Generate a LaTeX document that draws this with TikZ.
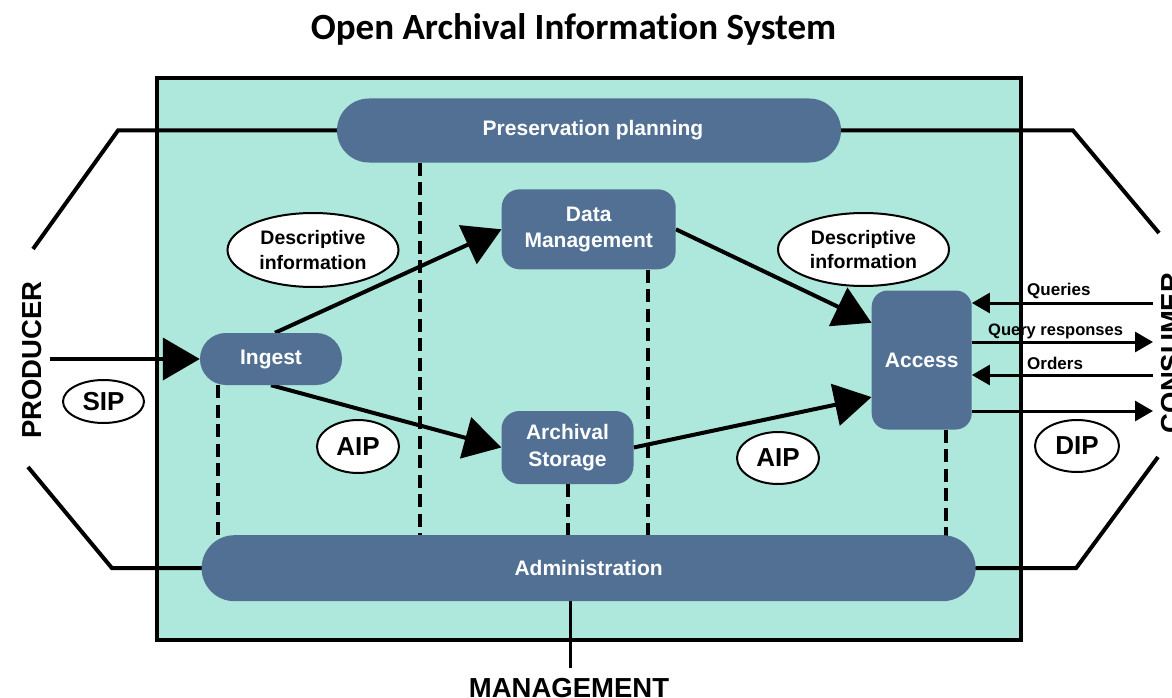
\documentclass[tikz,border=0pt]{standalone}
\usepackage{fontspec}
\setmainfont{Liberation Sans}
\newfontfamily\titlefont[Ligatures=NoCommon]{Carlito}
\usetikzlibrary{arrows.meta,shapes.geometric,calc}
\definecolor{boxfill}{RGB}{174,232,220}
\definecolor{nodeblue}{RGB}{81,112,148}
\pgfdeclarelayer{bg}
\pgfdeclarelayer{lines}
\pgfsetlayers{bg,lines,main}
\begin{document}
\begin{tikzpicture}[x=1pt,y=-1pt,
  func/.style={fill=nodeblue, text=white, font=\bfseries\fontsize{21}{26.5}\selectfont, inner sep=0pt, align=center},
  tag/.style={ellipse, draw=black, fill=white, line width=2pt, inner sep=0pt, font=\bfseries\fontsize{19.5}{24.5}\selectfont, align=center},
  pkg/.style={tag, font=\bfseries\fontsize{26}{30}\selectfont},
  flow/.style={line width=4pt, -{Triangle[length=37pt,width=42pt]}},
  iface/.style={line width=3pt, -{Triangle[length=18pt,width=20pt]}},
  link/.style={line width=4pt},
  dashlink/.style={line width=3.6pt, dash pattern=on 13pt off 6.5pt},
  lbl/.style={font=\bfseries\fontsize{17}{20}\selectfont, anchor=base west, inner sep=0pt},
  actor/.style={font=\bfseries\fontsize{27.5}{30}\selectfont, inner sep=0pt, anchor=base}
]
\useasboundingbox (0,0) rectangle (1172,698);

\node[font=\titlefont\bfseries\fontsize{37}{40}\selectfont, anchor=base, inner sep=0pt] (title) at (573.5,39.5) {Open Archival Information System};

% functional entities
\node[func, minimum width=504pt, minimum height=64pt, rounded corners=31.9pt] (pp) at (589,130.5) {\hspace*{8pt}Preservation planning};
\node[func, minimum width=174pt, minimum height=80pt, rounded corners=18pt] (dm) at (588.7,229.3) {Data\\Management};
\node[func, minimum width=142pt, minimum height=52pt, rounded corners=25.9pt] (ingest) at (271,359) {Ingest};
\node[func, minimum width=132pt, minimum height=73pt, rounded corners=18pt] (as) at (567.5,447.5) {Archival\\Storage};
\node[func, minimum width=100pt, minimum height=139pt, rounded corners=16pt] (access) at (921.7,360) {Access};
\node[func, minimum width=774pt, minimum height=66pt, rounded corners=32.9pt] (adm) at (588.6,568.2) {Administration};

% information tags
\node[tag, minimum width=171pt, minimum height=74pt] (di1) at (313,250) {Descriptive\\information};
\node[tag, minimum width=171pt, minimum height=73pt] (di2) at (863.5,249.5) {Descriptive\\information};
\node[pkg, minimum width=81pt, minimum height=43pt] (sip) at (103.5,401.5) {SIP};
\node[pkg, minimum width=82pt, minimum height=53pt] (aip1) at (358,446.5) {AIP};
\node[pkg, minimum width=82pt, minimum height=52pt] (aip2) at (778,458) {AIP};
\node[pkg, minimum width=84pt, minimum height=52pt] (dip) at (1077,446) {DIP};

% actors
\node[actor, rotate=90] (producer) at (41.5,360) {PRODUCER};
\node[actor, rotate=90] (consumer) at (1180,353) {CONSUMER};
\node[actor] (management) at (569,697) {MANAGEMENT};

% interface labels
\node[lbl] (lq) at (1027,295) {Queries};
\node[lbl, font=\bfseries\fontsize{16.5}{20}\selectfont] (lr) at (988,335) {Query responses};
\node[lbl] (lo) at (1027,369) {Orders};

\begin{pgfonlayer}{bg}
  \draw[line width=4pt, fill=boxfill] (157,78) rectangle (1021,640);
\end{pgfonlayer}

\begin{pgfonlayer}{lines}
  % outer brackets
  \coordinate (pl1) at (118,130);
  \coordinate (pl2) at (33,249);
  \coordinate (pr1) at (1073,130);
  \coordinate (pr2) at (1159,233);
  \coordinate (al1) at (112,569);
  \coordinate (al2) at (28,467);
  \coordinate (ar1) at (1076,569);
  \coordinate (ar2) at (1158,457);
  \draw[link] (pp.center) -- (pp.center -| pl1) -- (pl2);
  \draw[link] (pp.center) -- (pp.center -| pr1) -- (pr2);
  \draw[link] (adm.center) -- (adm.center -| al1) -- (al2);
  \draw[link] (adm.center) -- (adm.center -| ar1) -- (ar2);

  % dashed links to administration
  \coordinate (d1) at (218,0);
  \coordinate (d2) at (420,0);
  \coordinate (d3) at (648,0);
  \coordinate (d4) at (568,0);
  \coordinate (d5) at (946,0);
  \draw[dashlink] (ingest.south -| d1) -- (adm.center -| d1);
  \draw[dashlink] (pp.south -| d2) -- (adm.center -| d2);
  \draw[dashlink] (dm.south -| d3) -- (adm.center -| d3);
  \draw[dashlink] (as.south -| d4) -- (adm.center -| d4);
  \draw[dashlink] (access.south -| d5) -- (adm.center -| d5);

  % management link
  \coordinate (mg) at (570,668);
  \draw[line width=3pt] (adm.center -| mg) -- (mg);

  % main flows
  \coordinate (prod) at (50,359);
  \coordinate (acc1) at ($(access.north west)!0.233!(access.south west)$);
  \coordinate (acc2) at ($(access.north west)!0.766!(access.south west)$);
  \draw[flow] (prod) -- (ingest.west);
  \draw[flow] ([xshift=4pt]ingest.north) -- (dm.west);
  \draw[flow] (ingest.south) -- (as.west);
  \draw[flow] (dm.east) -- (acc1);
  \draw[flow] (as.east) -- (acc2);

  % consumer interface
  \coordinate (qend) at (1153,303);
  \coordinate (rend) at (1153,342);
  \coordinate (oend) at (1153,375);
  \coordinate (dend) at (1153,411);
  \draw[iface] (qend) -- (access.east |- qend);
  \draw[iface] (access.east |- rend) -- (rend);
  \draw[iface] (oend) -- (access.east |- oend);
  \draw[iface] (access.east |- dend) -- (dend);
\end{pgfonlayer}
\end{tikzpicture}
\end{document}
